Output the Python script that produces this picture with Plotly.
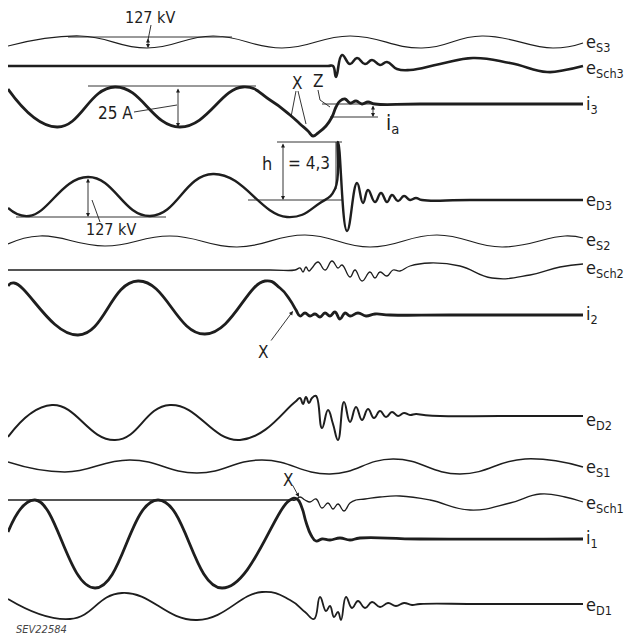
import plotly.graph_objects as go

# ---------------- trace data (time axis, deflection) ----------------
es3_x = [8, 80, 147, 213, 282, 350, 422, 482, 553, 583]
es3_y = [46, 36, 48, 36, 48, 36, 48, 36, 48, 43]

esch3_x = [8, 150, 300, 328, 333, 336, 342, 350, 357, 365, 372, 380, 387, 397, 410, 440, 473, 510, 547, 565, 583]
esch3_y = [66, 66, 66, 66, 66, 77, 55, 64, 58, 64, 60, 65, 62, 69, 70, 64, 58, 63, 72, 70, 66]

i3_x = [8, 57, 115, 180, 243, 270, 290, 300, 308, 313, 318, 326, 332, 336, 340, 345, 350, 356, 362, 368, 375,
        420, 583]
i3_y = [89, 127, 87, 127, 87, 100, 115, 124, 131, 136, 133, 126, 117, 107, 101, 99, 103, 101, 104, 102, 104,
        104, 104]

ed3_x = [8, 29, 88, 150, 213, 287, 320, 335, 338, 347, 357, 363, 368, 375, 381, 387, 392, 398, 404, 410, 416,
         422, 470, 583]
ed3_y = [208, 216, 177, 216, 174, 217, 203, 189, 142, 231, 183, 203, 190, 202, 193, 202, 195, 201, 196, 200, 198,
         200, 200, 200]

es2_x = [8, 40, 105, 170, 237, 305, 370, 437, 502, 565, 583]
es2_y = [244, 236, 246, 236, 247, 235, 247, 235, 247, 236, 238]

esch2_x = [8, 150, 270, 295, 300, 303, 306, 309, 312, 318, 325, 332, 338, 342, 350, 355, 362, 370, 375, 380,
           387, 393, 400, 410, 430, 460, 492, 530, 560, 583]
esch2_y = [270, 270, 270, 270, 268, 272, 267, 271, 268, 262, 270, 261, 268, 265, 277, 270, 281, 272, 278, 272,
           276, 270, 271, 266, 263, 266, 278, 275, 267, 264]

i2_x = [8, 14, 78, 138, 205, 265, 280, 290, 296, 300, 305, 310, 315, 320, 325, 330, 335, 340, 345, 350,
        358, 366, 375, 390, 450, 583]
i2_y = [286, 283, 335, 281, 334, 281, 288, 300, 310, 316, 313, 316, 314, 317, 313, 316, 312, 319, 313, 316,
        313, 316, 314, 315, 315, 315]

ed2_x = [8, 52, 115, 170, 240, 295, 300, 303, 306, 309, 312, 316, 322, 328, 333, 338, 344, 350, 356, 362,
         368, 374, 380, 386, 392, 398, 404, 410, 416, 424, 440, 500, 583]
ed2_y = [437, 405, 440, 405, 440, 402, 398, 404, 397, 403, 398, 396, 428, 410, 424, 440, 402, 422, 407, 420,
         409, 418, 411, 417, 412, 416, 413, 415, 414, 415, 416, 416, 416]

es1_x = [8, 65, 130, 197, 262, 330, 393, 460, 525, 583]
es1_y = [462, 472, 460, 473, 460, 474, 459, 474, 459, 467]

esch1_x = [8, 150, 260, 290, 295, 300, 305, 310, 316, 322, 328, 333, 338, 344, 350, 356, 365, 380, 400, 430,
           470, 510, 540, 565, 583]
esch1_y = [500, 500, 500, 500, 500, 497, 500, 502, 499, 508, 503, 509, 504, 511, 503, 500, 499, 497, 496, 500,
           510, 503, 494, 497, 502]

i1_x = [8, 35, 95, 158, 222, 290, 297, 302, 306, 311, 316, 322, 330, 340, 350, 360, 420, 583]
i1_y = [532, 500, 588, 500, 588, 500, 499, 508, 522, 535, 541, 539, 540, 538, 540, 538, 539, 539]

ed1_x = [8, 70, 122, 197, 262, 290, 305, 314, 320, 326, 330, 334, 338, 341, 346, 352, 358, 365, 372, 380,
         388, 396, 404, 412, 420, 480, 583]
ed1_y = [599, 619, 593, 620, 592, 600, 612, 619, 597, 611, 606, 617, 612, 620, 597, 608, 601, 608, 602, 607,
         603, 606, 603, 605, 604, 604, 604]

# trace names (right-hand labels) and label rows
label_main = ["e", "e", "i", "e", "e", "e", "i", "e", "e", "e", "i", "e"]
label_sub = ["S3", "Sch3", "3", "D3", "S2", "Sch2", "2", "D2", "S1", "Sch1", "1", "D1"]
label_y = [43, 69, 105, 201, 241, 269, 315, 421, 468, 504, 539, 606]

INK = "#1e1e1e"
FONT = "Liberation Sans Narrow, DejaVu Sans Condensed, Liberation Sans, sans-serif"

series = [
    (es3_x, es3_y, 1.2), (esch3_x, esch3_y, 2.6), (i3_x, i3_y, 2.8), (ed3_x, ed3_y, 2.4),
    (es2_x, es2_y, 1.2), (esch2_x, esch2_y, 1.3), (i2_x, i2_y, 2.8), (ed2_x, ed2_y, 2.0),
    (es1_x, es1_y, 1.5), (esch1_x, esch1_y, 1.3), (i1_x, i1_y, 2.8), (ed1_x, ed1_y, 1.8),
]

fig = go.Figure()
for xs, ys, w in series:
    fig.add_trace(go.Scatter(x=xs, y=ys, mode="lines",
                             line=dict(color=INK, width=w, shape="spline", smoothing=1.3),
                             hoverinfo="skip", showlegend=False))

annotations = []
for m, s, y in zip(label_main, label_sub, label_y):
    annotations.append(dict(x=584, y=y, xref="x", yref="y", xanchor="left", yanchor="middle",
                            text=f"{m}<sub>{s}</sub>", showarrow=False,
                            font=dict(family=FONT, size=18, color=INK)))

def text(x, y, t, size=16, anchor="center"):
    annotations.append(dict(x=x, y=y, xref="x", yref="y", xanchor=anchor, yanchor="middle",
                            text=t, showarrow=False, font=dict(family=FONT, size=size, color=INK)))

def arrow(x0, y0, x1, y1, both=True, width=0.9):
    annotations.append(dict(x=x1, y=y1, ax=x0, ay=y0, xref="x", yref="y", axref="x", ayref="y",
                            text="", showarrow=True, arrowhead=2, arrowsize=0.9, arrowwidth=width,
                            arrowcolor=INK, arrowside="end+start" if both else "end"))

shapes = []
def seg(x0, y0, x1, y1, w=0.9):
    shapes.append(dict(type="line", x0=x0, y0=y0, x1=x1, y1=y1, xref="x", yref="y",
                       line=dict(color=INK, width=w)))

# e_S3 amplitude bracket
seg(68, 37, 232, 37)
arrow(148, 37, 148, 48)
seg(151, 25, 148, 40)
text(150, 17, "127 kV", 16)

# i_3 amplitude bracket
seg(88, 86, 256, 86)
arrow(178, 87, 178, 127)
seg(134, 112, 177, 105)
text(115, 113, "25 A", 17)

# X / Z marks on i_3
text(297, 83, "X", 17)
seg(296, 91, 291, 117)
seg(298, 91, 306, 124)
text(318, 81, "Z", 17)
seg(318, 90, 320, 100)
seg(320, 100, 330, 107)

# i_a
seg(322, 104, 378, 104)
seg(330, 117, 378, 117)
arrow(373, 104, 373, 117)
text(384, 124, "i<sub>a</sub>", 21, "left")

# e_D3 amplitude bracket
seg(16, 217, 166, 217)
arrow(88, 177, 88, 217)
seg(100, 222, 92, 200)
text(111, 229, "127 kV", 16)

# h = 4,3 bracket
seg(277, 142, 342, 142)
seg(248, 200, 342, 200)
arrow(283, 142, 283, 200)
seg(336, 142, 336, 189)
text(267, 163, "h", 18)
text(309, 163, "= 4,3", 17)

# X on i_2 and i_1
text(263, 352, "X", 17)
arrow(270, 342, 293, 311, both=False)
text(288, 480, "X", 17)
arrow(292, 484, 299, 497, both=False)

annotations.append(dict(x=14, y=629, xref="x", yref="y", xanchor="left", yanchor="middle",
                        text="<i>SEV22584</i>", showarrow=False,
                        font=dict(family=FONT, size=11, color="#444")))

# the page body adds an 8 px margin; ranges are set so data units equal page pixels
fig.update_layout(
    width=633, height=637, margin=dict(l=0, r=0, t=0, b=0),
    paper_bgcolor="white", plot_bgcolor="white",
    xaxis=dict(range=[8, 641], visible=False, fixedrange=True),
    yaxis=dict(range=[645, 8], visible=False, fixedrange=True),
    annotations=annotations, shapes=shapes, showlegend=False,
)

fig.write_html("out.html")
